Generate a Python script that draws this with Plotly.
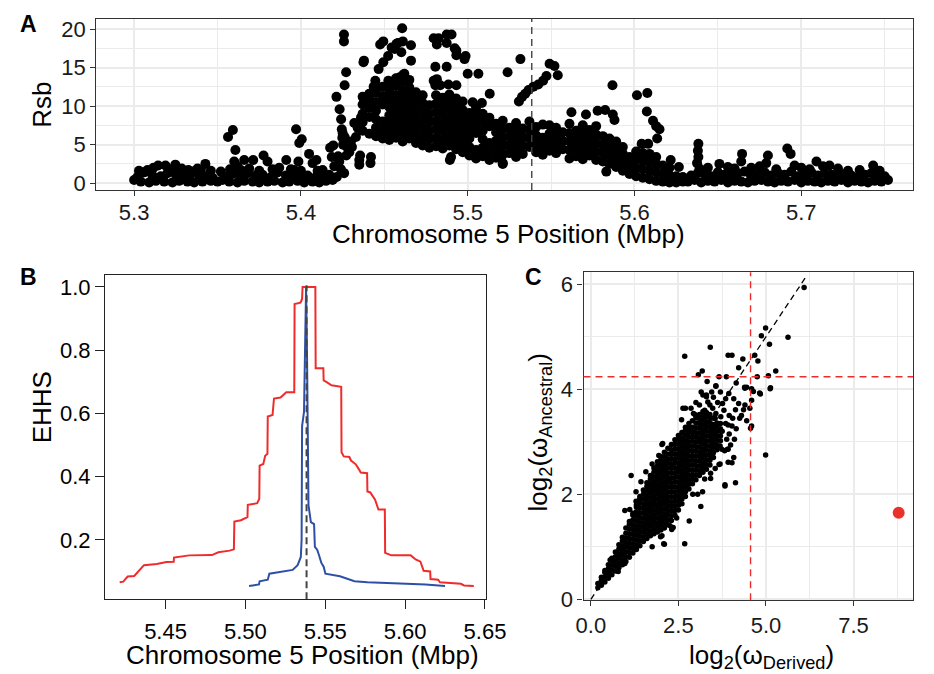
import plotly.graph_objects as go

# ---------------- Panel A : Rsb along chromosome 5 ----------------
a_left_low_pos = [5.300, 5.304, 5.309, 5.313, 5.318, 5.323, 5.327, 5.332, 5.336, 5.341, 5.346, 5.350, 5.353, 5.357,
                  5.362, 5.366, 5.371, 5.375, 5.380, 5.384, 5.389, 5.393, 5.398, 5.402, 5.407, 5.411, 5.415, 5.419]
a_left_low_rsb = [0.4, 0.2, 0.1, 0.3, 0.2, 0.1, 0.3, 0.2, 0.1, 0.2, 0.3, 0.2, 0.4, 0.2,
                  0.1, 0.3, 0.2, 0.1, 0.2, 0.3, 0.1, 0.2, 0.3, 0.1, 0.2, 0.1, 0.3, 0.4]
a_left_mid_pos = [5.302, 5.306, 5.311, 5.316, 5.320, 5.325, 5.330, 5.334, 5.339, 5.343, 5.347, 5.355, 5.359,
                  5.364, 5.368, 5.373, 5.377, 5.382, 5.386, 5.391, 5.395, 5.400, 5.404, 5.409, 5.413, 5.417]
a_left_mid_rsb = [0.8, 1.4, 1.0, 0.9, 1.3, 1.1, 0.8, 1.2, 1.0, 0.9, 0.7, 0.8, 1.2,
                  0.9, 1.3, 1.0, 1.1, 0.8, 1.4, 1.0, 0.9, 1.2, 1.0, 0.8, 0.9, 1.1]
a_left_up_pos = [5.3029, 5.3116, 5.3144, 5.3188, 5.3247, 5.3285, 5.3325, 5.3380, 5.3427, 5.3460, 5.3563, 5.3592,
                 5.3607, 5.3600, 5.3575, 5.3620, 5.3660, 5.3690, 5.3714, 5.3776, 5.3800, 5.3830, 5.3870, 5.3912,
                 5.3940, 5.3971, 5.3990, 5.4005, 5.3985, 5.4049, 5.4070, 5.4093, 5.4130, 5.3520, 5.3680, 5.3250,
                 5.3350, 5.4000, 5.3080, 5.3210, 5.3300, 5.3400, 5.3640, 5.3750, 5.3850, 5.3960, 5.4100]
a_left_up_rsb = [1.6, 2.0, 2.3, 2.3, 2.4, 1.9, 1.7, 1.9, 2.5, 1.6, 6.0, 6.9,
                 4.3, 2.8, 1.8, 2.2, 3.0, 1.9, 3.0, 3.6, 2.8, 1.8, 2.0, 3.0,
                 1.8, 7.0, 5.2, 5.7, 2.8, 3.8, 2.6, 3.0, 1.7, 1.5, 1.6, 1.5,
                 1.5, 1.6, 1.7, 1.8, 1.6, 1.7, 1.7, 1.6, 1.5, 1.7, 1.6]
a_rise_pos = [5.4175, 5.4185, 5.4194, 5.4200, 5.4213, 5.4223, 5.4232, 5.4241, 5.4245, 5.4250, 5.4248, 5.4253,
              5.4258, 5.4258, 5.4262, 5.4271, 5.4272, 5.4276, 5.4259, 5.4262, 5.4300, 5.4306, 5.4350, 5.4350,
              5.4355, 5.4230, 5.4240, 5.4215, 5.4180, 5.4290, 5.4320, 5.4340, 5.4330, 5.4360, 5.4375, 5.4378]
a_rise_rsb = [4.6, 3.4, 4.9, 2.2, 11.2, 3.5, 9.6, 8.3, 7.0, 6.5, 5.9, 5.0,
              19.3, 18.4, 12.7, 14.4, 3.6, 4.7, 1.3, 6.0, 5.4, 4.7, 3.0, 2.4,
              3.6, 2.8, 1.8, 0.8, 0.6, 4.0, 7.8, 7.2, 6.0, 8.5, 15.7, 15.9]
a_cloud_pos = [5.437, 5.441, 5.445, 5.449, 5.453, 5.457, 5.461, 5.465, 5.469, 5.473, 5.477, 5.481, 5.485,
               5.489, 5.493, 5.497, 5.501, 5.505, 5.509, 5.513, 5.517, 5.521, 5.525, 5.529, 5.533, 5.537,
               5.541, 5.545, 5.549, 5.553, 5.557, 5.561, 5.565, 5.569, 5.573, 5.577, 5.581, 5.585, 5.589,
               5.593, 5.597, 5.601, 5.605, 5.609, 5.613, 5.617, 5.621, 5.625, 5.629]
a_cloud_rsb = [
    [6.8, 7.9, 9.0, 10.2, 11.2],
    [6.4, 8.6, 9.8, 10.9, 11.6],
    [6.1, 7.2, 8.3, 9.4, 10.5, 11.7, 12.4],
    [5.8, 6.9, 8.0, 10.2, 11.3, 12.5],
    [5.6, 6.6, 7.7, 8.8, 9.9, 11.0, 12.1, 13.1],
    [5.9, 7.0, 8.1, 9.2, 10.3, 11.4, 12.6, 13.6],
    [5.4, 6.5, 7.6, 8.7, 9.8, 10.9, 12.0, 13.2, 14.0],
    [5.8, 6.9, 8.0, 9.1, 10.2, 11.3, 12.4, 13.4],
    [5.2, 6.3, 7.4, 8.5, 9.6, 10.7, 11.8],
    [4.9, 6.0, 7.1, 8.2, 9.3, 10.4, 11.4],
    [4.6, 5.7, 6.8, 7.9, 9.0, 10.1],
    [4.8, 5.9, 7.0, 8.1, 9.2, 10.3, 11.4],
    [4.5, 5.6, 6.7, 7.8, 8.9, 10.0, 11.1],
    [4.9, 6.0, 7.1, 8.2, 9.3, 10.4, 11.5],
    [4.4, 5.5, 6.6, 7.7, 8.8, 9.9, 11.0],
    [4.0, 5.1, 6.2, 7.3, 8.4, 9.5, 10.6],
    [3.6, 4.7, 5.8, 6.9, 8.0, 9.1],
    [3.2, 4.3, 6.5, 7.6, 8.7, 9.8],
    [3.5, 4.6, 5.7, 6.8, 7.9, 9.0],
    [3.0, 4.1, 5.2, 7.4, 8.5],
    [3.3, 4.4, 5.5, 6.6, 7.7],
    [2.6, 3.7, 4.8, 5.9, 7.0, 8.1],
    [3.9, 5.0, 6.1, 7.2],
    [3.4, 4.5, 5.6, 6.7, 7.8],
    [3.8, 4.9, 6.0, 7.1],
    [4.7, 5.8, 6.9, 8.0],
    [4.0, 5.1, 6.2, 7.3],
    [3.7, 4.8, 5.9, 7.6],
    [4.2, 5.3, 6.4, 7.5],
    [3.9, 5.0, 6.1, 7.2],
    [4.4, 5.5, 6.6],
    [3.2, 4.3, 5.4, 6.5, 7.7],
    [3.5, 4.6, 5.7, 6.8],
    [3.1, 4.2, 5.3, 6.4, 7.5],
    [3.6, 4.7, 5.8, 6.9],
    [3.0, 4.1, 5.2, 6.3, 7.4],
    [2.8, 3.9, 5.0, 6.1],
    [2.5, 3.6, 4.7, 5.8],
    [2.1, 3.2, 4.3, 5.4],
    [1.6, 2.7, 3.8, 4.7],
    [1.2, 2.3, 3.4],
    [0.9, 2.0, 3.1, 4.1],
    [0.7, 1.8, 2.9, 3.9],
    [0.5, 1.6, 2.7, 3.8],
    [0.3, 1.4, 2.5, 3.4],
    [0.2, 1.2, 2.3],
    [0.1, 1.0, 2.0],
    [0.1, 0.9],
    [0.2, 0.8],
]
a_high_pos = [5.4436, 5.4446, 5.4466, 5.4475, 5.4494, 5.4494, 5.4523, 5.4544, 5.4562, 5.4573, 5.4582, 5.4602,
              5.4607, 5.4611, 5.4660, 5.4660, 5.4524, 5.4590, 5.4620, 5.4796, 5.4815, 5.4825, 5.4874, 5.4874,
              5.4903, 5.4922, 5.4932, 5.4932, 5.4981, 5.4987, 5.4806, 5.4874, 5.4796, 5.4815, 5.4806, 5.4835,
              5.4884, 5.4932, 5.5000, 5.5064, 5.5239, 5.5316, 5.5132, 5.5030, 5.5085, 5.4893, 5.4900, 5.4420,
              5.4417, 5.5210, 5.5307, 5.5326, 5.5345, 5.5365, 5.5394, 5.5423, 5.5452, 5.5472, 5.5491, 5.5520,
              5.5540, 5.5868, 5.6015, 5.6077, 5.6074, 5.6111, 5.6130, 5.6150, 5.6136, 5.6043, 5.6082, 5.5824,
              5.5779, 5.5709, 5.5622, 5.5870, 5.5880, 5.5831, 5.6217, 5.6266]
a_high_rsb = [12.5, 13.3, 14.8, 18.0, 18.4, 15.7, 16.5, 17.6, 17.4, 18.1, 18.2, 17.0,
              20.1, 18.4, 17.9, 15.9, 13.3, 13.7, 14.2, 18.8, 18.0, 18.8, 19.3, 18.2,
              19.3, 17.5, 16.6, 17.2, 16.1, 16.5, 15.1, 15.1, 13.3, 13.5, 12.7, 12.7,
              12.8, 12.7, 14.2, 14.2, 14.4, 16.1, 11.6, 10.5, 10.4, 3.0, 3.4, 3.4,
              2.6, 2.5, 10.6, 11.2, 11.6, 12.1, 12.5, 12.8, 13.3, 13.9, 15.5, 15.2,
              14.0, 12.7, 11.4, 11.7, 9.3, 8.1, 7.4, 7.0, 5.8, 5.1, 5.1, 9.5,
              9.4, 8.9, 9.2, 8.9, 8.2, 1.5, 3.0, 2.1]
a_right_low_pos = [5.632, 5.636, 5.640, 5.644, 5.648, 5.652, 5.656, 5.660, 5.664, 5.668, 5.672, 5.676, 5.680,
                   5.684, 5.688, 5.692, 5.696, 5.700, 5.704, 5.708, 5.712, 5.716, 5.720, 5.724, 5.728, 5.732,
                   5.736, 5.740, 5.744, 5.748, 5.752]
a_right_low_rsb = [0.2, 0.4, 0.1, 0.3, 0.2, 0.4, 0.1, 0.3, 0.2, 0.1, 0.3, 0.4, 0.2,
                   0.1, 0.3, 0.2, 0.4, 0.1, 0.3, 0.2, 0.1, 0.3, 0.2, 0.4, 0.1, 0.3,
                   0.2, 0.1, 0.3, 0.2, 0.4]
a_right_mid_pos = [5.634, 5.638, 5.642, 5.646, 5.650, 5.654, 5.658, 5.662, 5.666, 5.670, 5.674, 5.678, 5.682,
                   5.686, 5.690, 5.694, 5.698, 5.702, 5.706, 5.710, 5.714, 5.718, 5.722, 5.726, 5.730, 5.734,
                   5.738, 5.742, 5.746, 5.750]
a_right_mid_rsb = [1.0, 1.3, 1.2, 0.9, 1.4, 1.1, 1.0, 1.3, 1.5, 0.9, 1.2, 1.4, 1.0,
                   1.3, 1.1, 1.5, 0.9, 1.2, 1.4, 1.0, 1.3, 1.1, 0.9, 1.2, 1.0, 0.8,
                   1.1, 1.3, 1.0, 0.9]
a_right_up_pos = [5.6383, 5.6380, 5.6383, 5.6375, 5.6390, 5.6440, 5.6509, 5.6560, 5.6600, 5.6645, 5.6640, 5.6700,
                  5.6750, 5.6800, 5.6790, 5.6850, 5.6916, 5.6936, 5.6960, 5.7000, 5.7050, 5.7091, 5.7130, 5.7169,
                  5.7220, 5.7280, 5.7350, 5.7431, 5.7470]
a_right_up_rsb = [5.1, 4.2, 3.4, 2.6, 1.9, 2.0, 2.5, 2.1, 1.9, 3.8, 2.8, 2.0,
                  2.2, 3.6, 2.6, 1.8, 4.5, 3.8, 2.3, 2.0, 1.8, 2.8, 2.2, 2.3,
                  1.9, 1.6, 1.7, 2.3, 1.6]
core_snp_pos = 5.5384

# ---------------- Panel B : EHHS ----------------
ehhs_red_pos = [5.4213, 5.4235, 5.4263, 5.4304, 5.4365, 5.4445, 5.4506, 5.4551, 5.4553, 5.4648, 5.4790, 5.4831,
                5.4901, 5.4928, 5.4931, 5.4972, 5.5013, 5.5015, 5.5074, 5.5087, 5.5089, 5.5112, 5.5124, 5.5138,
                5.5140, 5.5170, 5.5179, 5.5220, 5.5256, 5.5306, 5.5308, 5.5345, 5.5355, 5.5358, 5.5438, 5.5440,
                5.5488, 5.5490, 5.5509, 5.5539, 5.5600, 5.5602, 5.5616, 5.5651, 5.5661, 5.5691, 5.5711, 5.5722,
                5.5762, 5.5764, 5.5782, 5.5812, 5.5833, 5.5873, 5.5875, 5.5914, 5.6035, 5.6066, 5.6096, 5.6116,
                5.6157, 5.6159, 5.6207, 5.6218, 5.6349, 5.6369, 5.6430]
ehhs_red_val = [0.066, 0.068, 0.084, 0.086, 0.120, 0.124, 0.130, 0.131, 0.144, 0.151, 0.152, 0.161,
                0.166, 0.170, 0.258, 0.262, 0.272, 0.311, 0.316, 0.330, 0.435, 0.440, 0.466, 0.472,
                0.590, 0.595, 0.647, 0.650, 0.667, 0.667, 0.946, 0.950, 0.962, 1.000, 1.000, 0.743,
                0.743, 0.704, 0.699, 0.689, 0.684, 0.477, 0.464, 0.462, 0.451, 0.439, 0.423, 0.413,
                0.411, 0.353, 0.350, 0.327, 0.296, 0.296, 0.159, 0.151, 0.151, 0.138, 0.131, 0.102,
                0.100, 0.076, 0.074, 0.066, 0.061, 0.056, 0.054]
ehhs_blue_pos = [5.5023, 5.5085, 5.5089, 5.5140, 5.5150, 5.5225, 5.5296, 5.5327, 5.5347, 5.5352, 5.5355, 5.5367,
                 5.5374, 5.5380, 5.5386, 5.5390, 5.5395, 5.5410, 5.5430, 5.5435, 5.5450, 5.5462, 5.5475, 5.5490,
                 5.5501, 5.5592, 5.5683, 5.5764, 5.6027, 5.6128, 5.6250]
ehhs_blue_val = [0.054, 0.059, 0.069, 0.074, 0.093, 0.100, 0.105, 0.120, 0.146, 0.200, 0.560, 0.605,
                 0.800, 1.000, 0.780, 0.500, 0.310, 0.256, 0.250, 0.178, 0.168, 0.150, 0.128, 0.115,
                 0.093, 0.085, 0.069, 0.066, 0.062, 0.059, 0.054]
b_core_pos = 5.5383

# ---------------- Panel C : log2 omega ----------------
c_core_derived = [0.2, 0.3, 0.4, 0.5, 0.6, 0.7, 0.8, 0.9, 1.0, 1.1, 1.2, 1.3, 1.4, 1.5, 1.6, 1.7, 1.8, 1.9,
                  2.0, 2.1, 2.2, 2.3, 2.4, 2.5, 2.6, 2.7, 2.8, 2.9, 3.0, 3.1, 3.2, 3.3, 3.4, 3.5, 3.6, 3.7]
c_core_ancestral = [
    [0.22, 0.30],
    [0.27, 0.36, 0.42],
    [0.33, 0.42, 0.51, 0.55],
    [0.40, 0.49, 0.58, 0.66],
    [0.47, 0.56, 0.65, 0.74, 0.78],
    [0.54, 0.63, 0.72, 0.81, 0.90],
    [0.60, 0.69, 0.78, 0.87, 0.96, 1.04],
    [0.66, 0.75, 0.84, 0.93, 1.02, 1.11, 1.18],
    [0.72, 0.81, 0.90, 0.99, 1.08, 1.17, 1.26, 1.36],
    [0.80, 0.89, 0.98, 1.07, 1.16, 1.25, 1.34, 1.43, 1.48],
    [0.88, 0.97, 1.06, 1.15, 1.24, 1.33, 1.42, 1.51, 1.60, 1.64],
    [0.95, 1.04, 1.13, 1.22, 1.31, 1.40, 1.49, 1.58, 1.67, 1.76, 1.80],
    [1.02, 1.11, 1.20, 1.29, 1.38, 1.47, 1.56, 1.65, 1.74, 1.83, 1.92, 1.96],
    [1.10, 1.19, 1.28, 1.37, 1.46, 1.55, 1.64, 1.73, 1.82, 1.91, 2.00, 2.08],
    [1.16, 1.25, 1.34, 1.43, 1.52, 1.61, 1.70, 1.79, 1.88, 1.97, 2.06, 2.15, 2.22],
    [1.21, 1.30, 1.39, 1.48, 1.57, 1.66, 1.75, 1.84, 1.93, 2.02, 2.11, 2.20, 2.29, 2.36],
    [1.25, 1.34, 1.43, 1.52, 1.61, 1.70, 1.79, 1.88, 1.97, 2.06, 2.15, 2.24, 2.33, 2.42, 2.50],
    [1.28, 1.37, 1.46, 1.55, 1.64, 1.73, 1.82, 1.91, 2.00, 2.09, 2.18, 2.27, 2.36, 2.45, 2.54, 2.62],
    [1.32, 1.41, 1.50, 1.59, 1.68, 1.77, 1.86, 1.95, 2.04, 2.13, 2.22, 2.31, 2.40, 2.49, 2.58, 2.66, 2.72],
    [1.36, 1.45, 1.54, 1.63, 1.72, 1.81, 1.90, 1.99, 2.08, 2.17, 2.26, 2.35, 2.44, 2.53, 2.62, 2.71, 2.80],
    [1.42, 1.51, 1.60, 1.69, 1.78, 1.87, 1.96, 2.05, 2.14, 2.23, 2.32, 2.41, 2.50, 2.59, 2.68, 2.77, 2.88],
    [1.50, 1.59, 1.68, 1.77, 1.86, 1.95, 2.04, 2.13, 2.22, 2.31, 2.40, 2.49, 2.58, 2.67, 2.76, 2.85, 2.95],
    [1.60, 1.69, 1.78, 1.87, 1.96, 2.05, 2.14, 2.23, 2.32, 2.41, 2.50, 2.59, 2.68, 2.77, 2.86, 2.95, 3.04],
    [1.70, 1.79, 1.88, 1.97, 2.06, 2.15, 2.24, 2.33, 2.42, 2.51, 2.60, 2.69, 2.78, 2.87, 2.96, 3.05, 3.12],
    [1.82, 1.91, 2.00, 2.09, 2.18, 2.27, 2.36, 2.45, 2.54, 2.63, 2.72, 2.81, 2.90, 2.99, 3.08, 3.18],
    [1.96, 2.05, 2.14, 2.23, 2.32, 2.41, 2.50, 2.59, 2.68, 2.77, 2.86, 2.95, 3.04, 3.13, 3.22, 3.28],
    [2.10, 2.19, 2.28, 2.37, 2.46, 2.55, 2.64, 2.73, 2.82, 2.91, 3.00, 3.09, 3.18, 3.27, 3.35],
    [2.20, 2.29, 2.38, 2.47, 2.56, 2.65, 2.74, 2.83, 2.92, 3.01, 3.10, 3.19, 3.28, 3.40],
    [2.28, 2.37, 2.46, 2.55, 2.64, 2.73, 2.82, 2.91, 3.00, 3.09, 3.18, 3.27, 3.36, 3.46],
    [2.36, 2.45, 2.54, 2.63, 2.72, 2.81, 2.90, 2.99, 3.08, 3.17, 3.26, 3.35, 3.44, 3.52],
    [2.42, 2.51, 2.60, 2.69, 2.78, 2.87, 2.96, 3.05, 3.14, 3.23, 3.32, 3.41, 3.50, 3.58],
    [2.48, 2.57, 2.66, 2.75, 2.84, 2.93, 3.02, 3.11, 3.20, 3.29, 3.38, 3.47, 3.56],
    [2.56, 2.65, 2.74, 2.83, 2.92, 3.01, 3.10, 3.19, 3.28, 3.37, 3.46, 3.52],
    [2.70, 2.79, 2.88, 2.97, 3.06, 3.15, 3.24, 3.33, 3.45],
    [2.85, 2.94, 3.03, 3.12, 3.21, 3.30, 3.36],
    [3.02, 3.11, 3.20, 3.25],
]
c_spread_derived = [0.97, 1.15, 1.29, 1.43, 1.57, 1.75, 1.94, 2.03, 2.05, 2.63, 2.86, 2.59, 2.03, 2.08, 1.75,
                    2.35, 2.68, 2.10, 2.81, 3.14, 2.91, 3.05, 3.19, 3.42, 3.42, 3.83, 3.69, 3.55, 3.74, 3.92,
                    3.92, 3.92, 3.69, 2.31, 3.25, 1.11, 1.29, 0.55, 0.97, 0.78, 1.99, 2.26, 2.45,
                    6.09, 5.63, 4.99, 4.87, 5.10, 4.68, 4.77, 4.34, 4.22, 3.92, 4.03, 3.41, 2.68, 3.18, 3.07,
                    3.66, 3.87, 4.75, 5.07, 5.28, 5.13, 4.82, 3.32, 3.57, 4.15, 4.39, 4.45, 4.59, 4.64, 3.94,
                    3.85, 4.08, 4.22, 3.20, 3.30, 3.34, 3.76, 4.40, 4.36, 4.59, 4.54, 4.13, 4.25, 4.59, 4.56,
                    4.03, 2.70, 2.97, 3.48, 3.57, 3.71, 3.90, 3.48, 4.99, 4.13, 3.83, 4.08, 4.03, 3.82, 3.66,
                    3.99, 4.84, 5.12, 4.40, 3.30, 3.57, 2.93, 3.10, 3.25, 3.40, 3.50, 3.62, 3.70, 3.80, 3.95,
                    4.05, 3.85, 3.60, 3.75, 3.95, 4.15, 4.10, 3.88, 3.60, 4.30, 4.45, 3.45, 3.15, 3.00, 3.35,
                    3.55, 3.70]
c_spread_ancestral = [1.69, 2.36, 2.05, 2.24, 2.43, 2.58, 2.74, 2.95, 2.97, 3.64, 3.64, 3.42, 1.21, 1.06, 1.00,
                      1.37, 1.06, 1.05, 1.49, 1.77, 2.00, 2.00, 2.05, 2.30, 2.40, 2.18, 2.58, 2.49, 2.86, 2.86,
                      2.61, 3.32, 2.92, 1.33, 2.29, 1.71, 1.87, 0.75, 0.68, 0.53, 1.19, 1.40, 1.55,
                      5.94, 4.99, 5.17, 5.02, 4.86, 4.65, 4.54, 4.58, 4.41, 4.65, 4.65, 4.80, 4.63, 4.35, 4.28,
                      4.24, 4.24, 4.24, 4.26, 4.35, 4.03, 3.93, 4.15, 4.06, 4.12, 4.04, 4.04, 4.01, 3.96, 3.92,
                      3.82, 3.82, 3.73, 3.89, 3.86, 3.76, 3.73, 3.70, 3.61, 3.79, 3.64, 3.61, 3.45, 3.30, 3.26,
                      3.30, 3.64, 3.52, 3.64, 3.54, 3.48, 2.86, 3.23, 2.75, 2.22, 2.16, 2.70, 2.60, 2.83, 2.57,
                      2.94, 3.91, 4.01, 4.02, 3.89, 4.07, 3.54, 3.70, 3.60, 3.70, 3.85, 3.75, 3.95, 3.60, 3.50,
                      3.45, 3.35, 3.35, 3.20, 3.15, 3.25, 3.05, 3.05, 3.10, 3.50, 3.40, 3.95, 3.95, 3.75, 3.50,
                      3.45, 3.35]
c_focal_derived = [8.79]
c_focal_ancestral = [1.65]
c_cut_derived = 4.56
c_cut_ancestral = 4.24
c_diag = [0.0, 6.12]

# ---------------- assemble ----------------
def flatten(cols, vals):
    xs, ys = [], []
    for c, v in zip(cols, vals):
        xs += [c] * len(v)
        ys += v
    return xs, ys

a_cx, a_cy = flatten(a_cloud_pos, a_cloud_rsb)
a_x = (a_left_low_pos + a_left_mid_pos + a_left_up_pos + a_rise_pos + a_cx + a_high_pos
       + a_right_low_pos + a_right_mid_pos + a_right_up_pos)
a_y = (a_left_low_rsb + a_left_mid_rsb + a_left_up_rsb + a_rise_rsb + a_cy + a_high_rsb
       + a_right_low_rsb + a_right_mid_rsb + a_right_up_rsb)
c_cx, c_cy = flatten(c_core_derived, c_core_ancestral)

FONT = "Liberation Sans, Arial, Helvetica, sans-serif"
W, H = 934, 674
RED = "#EE2C2C"

fig = go.Figure()
fig.add_trace(go.Scatter(x=a_x, y=a_y, mode="markers", xaxis="x", yaxis="y",
                         marker=dict(size=10, color="black", line=dict(width=0))))
fig.add_trace(go.Scatter(x=ehhs_red_pos, y=ehhs_red_val, mode="lines", xaxis="x2", yaxis="y2",
                         line=dict(color="#F02B2B", width=2)))
fig.add_trace(go.Scatter(x=ehhs_blue_pos, y=ehhs_blue_val, mode="lines", xaxis="x2", yaxis="y2",
                         line=dict(color="#2E4FA6", width=2)))
fig.add_trace(go.Scatter(x=c_cx + c_spread_derived, y=c_cy + c_spread_ancestral, mode="markers",
                         xaxis="x3", yaxis="y3", marker=dict(size=5.5, color="black", line=dict(width=0))))
fig.add_trace(go.Scatter(x=c_diag, y=c_diag, mode="lines", xaxis="x3", yaxis="y3",
                         line=dict(color="black", width=1.3, dash="6px,4px")))
fig.add_trace(go.Scatter(x=c_focal_derived, y=c_focal_ancestral, mode="markers", xaxis="x3", yaxis="y3",
                         marker=dict(size=12, color="#E8322B", line=dict(width=0))))

a_range_y = [-0.89, 21.35]
b_range_y = [0.012, 1.037]

grid_major = "#EBEBEB"
tickfont = dict(family=FONT, size=22, color="#1a1a1a")

def gg_axis(domain, rng, tick0, dtick, minor_dtick, fmt, anchor):
    return dict(domain=domain, range=rng, anchor=anchor, tick0=tick0, dtick=dtick, tickformat=fmt,
                showgrid=True, gridcolor=grid_major, gridwidth=1.6,
                minor=dict(tick0=tick0, dtick=minor_dtick, showgrid=True, gridcolor=grid_major, gridwidth=0.8,
                           ticklen=0),
                showline=True, mirror=True, linecolor="#333333", linewidth=1.3,
                ticks="outside", ticklen=5, tickwidth=1.2, tickcolor="#333333",
                tickfont=tickfont, zeroline=False, fixedrange=True)

def base_axis(domain, rng, tick0, dtick, fmt, anchor):
    return dict(domain=domain, range=rng, anchor=anchor, tick0=tick0, dtick=dtick, tickformat=fmt,
                showgrid=False, showline=True, mirror=True, linecolor="#222222", linewidth=1.1,
                ticks="outside", ticklen=9, tickwidth=1.1, tickcolor="#222222",
                tickfont=dict(family=FONT, size=22, color="black"), zeroline=False, fixedrange=True)

fig.update_layout(
    width=W, height=H, autosize=False, showlegend=False,
    margin=dict(l=0, r=0, t=0, b=0),
    paper_bgcolor="white", plot_bgcolor="white",
    font=dict(family=FONT, color="black"),
    xaxis=gg_axis([91 / W, 933 / W], [5.2773, 5.767], 5.3, 0.1, 0.05, ".1f", "y"),
    yaxis=gg_axis([1 - 192 / H, 1 - 17 / H], a_range_y, 0, 5, 2.5, "d", "x"),
    xaxis2=base_axis([100 / W, 492.7 / W], [5.4121, 5.6506], 5.45, 0.05, ".2f", "y2"),
    yaxis2=base_axis([1 - 610 / H, 1 - 279 / H], b_range_y, 0.2, 0.2, ".1f", "x2"),
    xaxis3=gg_axis([593.3 / W, 933 / W], [-0.21, 9.2], 0, 2.5, 1.25, ".1f", "y3"),
    yaxis3=gg_axis([1 - 611 / H, 1 - 276 / H], [-0.019, 6.23], 0, 2, 1, "d", "x3"),
)
fig.update_layout(xaxis2=dict(ticklabelstandoff=3), xaxis=dict(ticklabelstandoff=-3))

shapes = [
    dict(type="line", xref="x", yref="y domain", x0=core_snp_pos, x1=core_snp_pos, y0=0, y1=1,
         line=dict(color="#444444", width=1.4, dash="7px,5px")),
    dict(type="line", xref="x2", yref="y2", x0=b_core_pos, x1=b_core_pos, y0=b_range_y[0], y1=1.005,
         line=dict(color="#444444", width=2, dash="7px,4px")),
    dict(type="line", xref="x3", yref="y3 domain", x0=c_cut_derived, x1=c_cut_derived, y0=0, y1=1,
         line=dict(color=RED, width=1.4, dash="7px,5px")),
    dict(type="line", xref="x3 domain", yref="y3", x0=0, x1=1, y0=c_cut_ancestral, y1=c_cut_ancestral,
         line=dict(color=RED, width=1.4, dash="7px,5px")),
]
fig.update_layout(shapes=shapes)

def ann(text, px, py, size=26, angle=0, bold=False):
    return dict(text=("<b>%s</b>" % text) if bold else text, x=px / W, y=1 - py / H, xref="paper", yref="paper",
                xanchor="center", yanchor="middle", showarrow=False, textangle=angle,
                font=dict(family=FONT, size=size, color="black"))

fig.update_layout(annotations=[
    ann("A", 21, 22, size=23, bold=True),
    ann("B", 21, 281, size=23, bold=True),
    ann("C", 541.5, 281, size=23, bold=True),
    ann("Chromosome 5 Position (Mbp)", 516, 237),
    ann("Rsb", 35, 105, angle=-90),
    ann("Chromosome 5 Position (Mbp)", 304, 667),
    ann("EHHS", 35, 414, angle=-90),
    ann("log<sub>2</sub>(ω<sub>Derived</sub>)", 777, 668),
    ann("log<sub>2</sub>(ω<sub>Ancestral</sub>)", 548, 440, angle=-90),
])

fig.write_html("out.html", config={"displayModeBar": False},
               post_script="document.body.style.margin='0px';document.body.style.overflow='hidden';")
